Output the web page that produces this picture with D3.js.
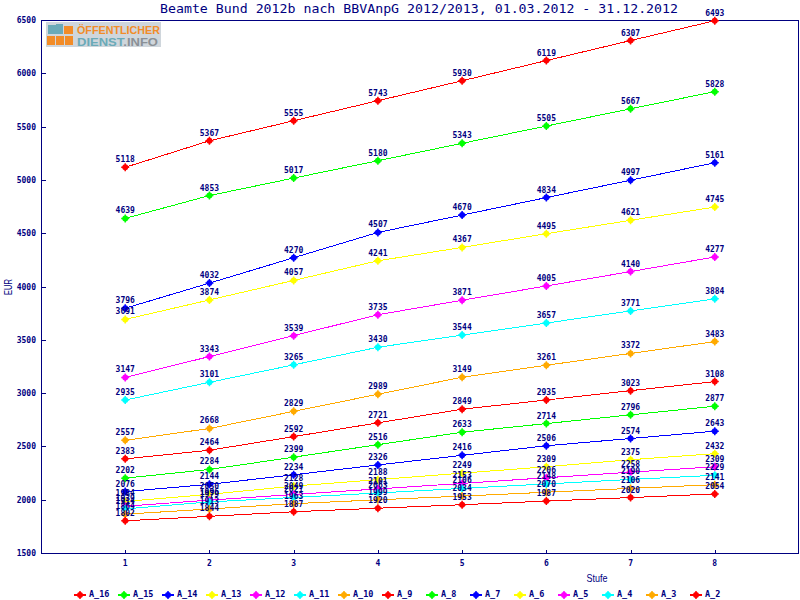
<!DOCTYPE html>
<html><head><meta charset="utf-8">
<script src="https://cdn.jsdelivr.net/npm/d3@7"></script>
<style>body{margin:0;background:#fff}svg{display:block}</style>
</head><body>
<svg id="c" width="800" height="600"></svg>
<script>
const stufen = [1,2,3,4,5,6,7,8];
const seriesNames = ["A_16","A_15","A_14","A_13","A_12","A_11","A_10","A_9","A_8","A_7","A_6","A_5","A_4","A_3","A_2"];
const seriesColors = ["#ff0000","#00ff00","#0000ff","#ffff00","#ff00ff","#00ffff","#ffaa00","#ff0000","#00ff00","#0000ff","#ffff00","#ff00ff","#00ffff","#ffaa00","#ff0000"];
const A_16 = [5118,5367,5555,5743,5930,6119,6307,6493];
const A_15 = [4639,4853,5017,5180,5343,5505,5667,5828];
const A_14 = [3796,4032,4270,4507,4670,4834,4997,5161];
const A_13 = [3691,3874,4057,4241,4367,4495,4621,4745];
const A_12 = [3147,3343,3539,3735,3871,4005,4140,4277];
const A_11 = [2935,3101,3265,3430,3544,3657,3771,3884];
const A_10 = [2557,2668,2829,2989,3149,3261,3372,3483];
const A_9  = [2383,2464,2592,2721,2849,2935,3023,3108];
const A_8  = [2202,2284,2399,2516,2633,2714,2796,2877];
const A_7  = [2076,2144,2234,2326,2416,2506,2574,2643];
const A_6  = [1984,2050,2128,2188,2249,2309,2375,2432];
const A_5  = [1939,1996,2049,2101,2153,2206,2258,2309];
const A_4  = [1914,1979,2021,2063,2106,2148,2190,2229];
const A_3  = [1864,1913,1963,1999,2034,2070,2106,2141];
const A_2  = [1802,1844,1887,1920,1953,1987,2020,2054];
const seriesValues = [A_16,A_15,A_14,A_13,A_12,A_11,A_10,A_9,A_8,A_7,A_6,A_5,A_4,A_3,A_2];
const yTicks = [1500,2000,2500,3000,3500,4000,4500,5000,5500,6000,6500];
const title = "Beamte Bund 2012b nach BBVAnpG 2012/2013, 01.03.2012 - 31.12.2012";

const navy = "#000080";
const svg = d3.select("#c");
const L = 41, R = 799, T = 20, B = 553;
const x = d3.scaleLinear().domain([0,9]).range([L,R]);
const y = d3.scaleLinear().domain([1500,6500]).range([B,T]);

// title
svg.append("text").attr("x",419).attr("y",13).attr("text-anchor","middle")
  .attr("font-family","DejaVu Sans Mono").attr("font-size",13).attr("fill",navy)
  .attr("textLength",518).attr("lengthAdjust","spacingAndGlyphs").text(title);

// logo
const lg = svg.append("g");
lg.append("rect").attr("x",46).attr("y",22).attr("width",115).attr("height",25).attr("fill","#cfd6dc");
lg.append("path").attr("d","M48,25 h8 v-1 h7 v10 h-15 z").attr("fill","#6aaab8");
lg.append("rect").attr("x",64).attr("y",26).attr("width",9).attr("height",8).attr("fill","#f28c28");
[47,56,65].forEach(px=>lg.append("rect").attr("x",px).attr("y",36).attr("width",8).attr("height",9).attr("fill","#f28c28"));
lg.append("text").attr("x",77).attr("y",34).attr("font-family","Liberation Sans").attr("font-weight","bold")
  .attr("font-size",11).attr("fill","#f28c28").attr("textLength",83).attr("lengthAdjust","spacingAndGlyphs").text("ÖFFENTLICHER");
const t2 = lg.append("text").attr("x",77).attr("y",45.5).attr("font-family","Liberation Sans").attr("font-weight","bold")
  .attr("font-size",11.5).attr("textLength",81).attr("lengthAdjust","spacingAndGlyphs");
t2.append("tspan").attr("fill","#6aaab8").text("DIENST");
t2.append("tspan").attr("fill","#8a9096").text(".INFO");

// frame
svg.append("rect").attr("x",L+0.5).attr("y",T+0.5).attr("width",R-L-1).attr("height",B-T)
  .attr("fill","none").attr("stroke",navy).attr("stroke-width",1).attr("shape-rendering","crispEdges");

// y axis ticks
const yAxis = d3.axisRight(y).tickValues(yTicks).tickSize(4).tickFormat("");
svg.append("g").attr("transform",`translate(${L+0.5},0)`).call(yAxis)
  .call(g=>{g.select(".domain").remove();g.selectAll("line").attr("stroke",navy).attr("shape-rendering","crispEdges");});
svg.append("g").selectAll("text").data(yTicks).join("text")
  .attr("x",36).attr("y",d=>y(d)+3).attr("text-anchor","end")
  .attr("font-family","DejaVu Sans Mono").attr("font-weight","bold").attr("font-size",8).attr("fill",navy)
  .text(d=>d);

// x axis ticks
const xAxis = d3.axisTop(x).tickValues(stufen).tickSize(4).tickFormat("");
svg.append("g").attr("transform",`translate(0,${B+0.5})`).call(xAxis)
  .call(g=>{g.select(".domain").remove();g.selectAll("line").attr("stroke",navy).attr("shape-rendering","crispEdges");});
svg.append("g").selectAll("text").data(stufen).join("text")
  .attr("x",d=>x(d)).attr("y",566).attr("text-anchor","middle")
  .attr("font-family","DejaVu Sans Mono").attr("font-weight","bold").attr("font-size",8).attr("fill",navy)
  .text(d=>d);

// axis titles
svg.append("text").attr("transform","translate(12,287) rotate(-90)").attr("text-anchor","middle")
  .attr("font-family","Liberation Sans").attr("font-size",10.5).attr("fill",navy)
  .attr("textLength",16).attr("lengthAdjust","spacingAndGlyphs").text("EUR");
svg.append("text").attr("x",597).attr("y",582).attr("text-anchor","middle")
  .attr("font-family","Liberation Sans").attr("font-size",10.5).attr("fill",navy)
  .attr("textLength",21).attr("lengthAdjust","spacingAndGlyphs").text("Stufe");

function marker(g, cx, cy, color){
  g.append("circle").attr("cx",cx).attr("cy",cy).attr("r",3).attr("fill",color);
  g.append("path").attr("d",`M${cx-4},${cy}H${cx+4}M${cx},${cy-4}V${cy+4}`)
    .attr("stroke",color).attr("stroke-width",1.5);
}

const line = d3.line().x((d,i)=>x(stufen[i])).y(d=>y(d));
const plot = svg.append("g");
seriesValues.forEach((vals,si)=>{
  plot.append("path").datum(vals).attr("d",line).attr("fill","none")
    .attr("stroke",seriesColors[si]).attr("stroke-width",1).attr("shape-rendering","crispEdges");
});
seriesValues.forEach((vals,si)=>{
  vals.forEach((v,i)=>marker(plot, x(stufen[i]), y(v), seriesColors[si]));
});
const labels = svg.append("g");
seriesValues.forEach((vals,si)=>{
  labels.selectAll(null).data(vals).join("text")
    .attr("x",(d,i)=>x(stufen[i])).attr("y",d=>y(d)-5).attr("text-anchor","middle")
    .attr("font-family","DejaVu Sans Mono").attr("font-weight","bold").attr("font-size",8).attr("fill",navy)
    .text(d=>d);
});

// legend
const leg = svg.append("g");
seriesNames.forEach((n,i)=>{
  const lx = 74 + i*44, ly = 595;
  leg.append("line").attr("x1",lx).attr("x2",lx+12).attr("y1",ly).attr("y2",ly)
    .attr("stroke",seriesColors[i]).attr("stroke-width",2);
  marker(leg, lx+6, ly, seriesColors[i]);
  leg.append("text").attr("x",lx+15).attr("y",597)
    .attr("font-family","DejaVu Sans Mono").attr("font-weight","bold").attr("font-size",8.5).attr("fill",navy)
    .text(n);
});
</script>
</body></html>
